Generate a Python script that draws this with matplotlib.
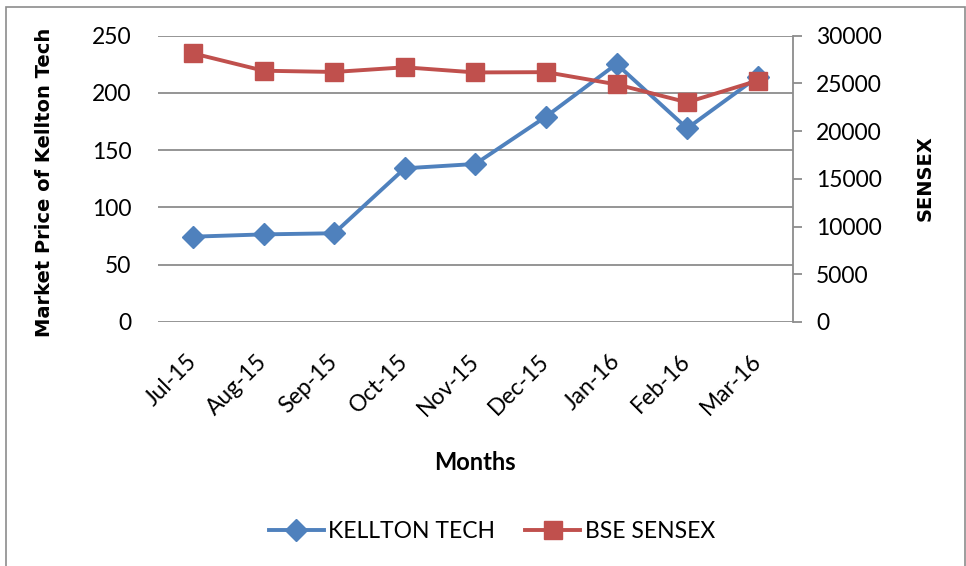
import matplotlib.pyplot as plt
from matplotlib.patches import Rectangle
from matplotlib.lines import Line2D

months = ['Jul-15', 'Aug-15', 'Sep-15', 'Oct-15', 'Nov-15', 'Dec-15', 'Jan-16', 'Feb-16', 'Mar-16']
kellton = [74.5, 76.5, 77.5, 134.2, 138, 179.3, 225.3, 169.1, 214]
sensex = [28150, 26330, 26200, 26690, 26150, 26180, 24900, 23020, 25290]

blue = '#4F81BD'
red = '#C0504D'
grid_c = '#8C8C8C'

fig = plt.figure(figsize=(9.66, 5.66), dpi=100)
W, H = 966, 566

# frame around the whole chart
fig.add_artist(Rectangle((6 / W, -0.05), (964.5 - 6) / W, (H - 7) / H + 0.05,
                         transform=fig.transFigure, fill=False, edgecolor='#8C8C8C', lw=1.2))

ax = fig.add_axes([157.7 / W, 1 - 322 / H, (793 - 157.7) / W, (322 - 35.7) / H])
ax2 = ax.twinx()

x = list(range(len(months)))
ax.plot(x, kellton, color=blue, lw=2.8, marker='D', ms=11.5, mec=blue, mfc=blue, zorder=3)
ax2.plot(x, sensex, color=red, lw=2.8, marker='s', ms=12.5, mec=red, mfc=red, zorder=3)

ax.set_xlim(-0.5, len(months) - 0.5)
ax.set_ylim(0, 250)
ax2.set_ylim(0, 30000)
ax.set_yticks(range(0, 251, 50))
ax2.set_yticks(range(0, 30001, 5000))
ax.yaxis.grid(True, color=grid_c, lw=1.3)
ax.set_axisbelow(True)

for s in ['top', 'left', 'bottom', 'right']:
    ax.spines[s].set_visible(False)
    ax2.spines[s].set_visible(False)
ax2.spines['right'].set_visible(True)
ax2.spines['right'].set_color(grid_c)
ax2.spines['right'].set_linewidth(1.3)

ax.set_xticks(x)
ax.set_xticklabels(months, rotation=45, ha='right', va='center', rotation_mode='anchor',
                   family='Lato', size=16.5)
ax.tick_params(axis='x', length=0, pad=26)
ax.tick_params(axis='y', length=0, pad=19)
for lbl in ax.get_yticklabels():
    lbl.set_fontfamily('Lato')
    lbl.set_fontsize(16.5)
ax2.tick_params(axis='y', length=6.5, width=1.3, color=grid_c, pad=10)
for lbl in ax2.get_yticklabels():
    lbl.set_fontfamily('Lato')
    lbl.set_fontsize(16.5)

fig.text(45 / W, 1 - 182 / H, 'Market Price of Kellton Tech', rotation=90, ha='center', va='center',
         family='DejaVu Sans', weight='bold', size=14)
fig.text(925 / W, 1 - 178 / H, 'SENSEX', rotation=90, ha='center', va='center',
         family='DejaVu Sans', weight='bold', size=14)
fig.text(475 / W, 1 - 462 / H, 'Months', ha='center', va='center', family='Lato', weight='bold', size=17)

handles = [Line2D([], [], color=blue, lw=2.8, marker='D', ms=11.5),
           Line2D([], [], color=red, lw=2.8, marker='s', ms=12.5)]
fig.legend(handles, ['KELLTON TECH', 'BSE SENSEX'], loc='center', bbox_to_anchor=(492 / W, 1 - 532 / H),
           ncol=2, frameon=False, prop={'family': 'Lato', 'size': 16.5},
           handlelength=2.4, handletextpad=0.2, columnspacing=1.3)

fig.savefig('out.png', dpi=100)
